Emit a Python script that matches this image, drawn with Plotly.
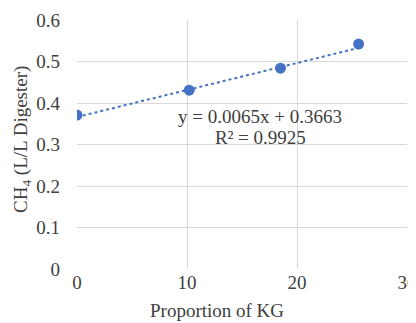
import plotly.graph_objects as go

# Data
x_vals = [0, 10.2, 18.5, 25.6]
y_vals = [0.371, 0.431, 0.484, 0.542]
slope = 0.0065
intercept = 0.3663
eq_text = "y = 0.0065x + 0.3663"
r2_text = "R² = 0.9925"
x_ticks = [0, 10, 20, 30]
y_ticks = [0, 0.1, 0.2, 0.3, 0.4, 0.5, 0.6]

blue = "#4472C4"
font_family = "Liberation Serif"
txt_color = "#404040"

trend_x = [min(x_vals), max(x_vals)]
trend_y = [slope * v + intercept for v in trend_x]

# page has an 8px body margin, so the figure is drawn offset by 8px
OFF = 8
W, H = 416, 323
PL, PR, PT, PB = 77, 407, 20, 269  # plot area in window pixels
L, T = PL - OFF, PT - OFF
R, B = W + OFF - PR, H + OFF - PB
pw, ph = PR - PL, PB - PT


def px_x(ax):
    return (ax - PL) / pw


def px_y(ay):
    return (PB - ay) / ph


fig = go.Figure()
fig.add_trace(go.Scatter(x=trend_x, y=trend_y, mode="lines",
                         line=dict(color=blue, width=2, dash="dot"),
                         hoverinfo="skip", showlegend=False))
fig.add_trace(go.Scatter(x=x_vals, y=y_vals, mode="markers",
                         marker=dict(color=blue, size=11),
                         showlegend=False))

tf = dict(family=font_family, size=19, color=txt_color)

fig.update_layout(
    width=W, height=H,
    margin=dict(l=L, r=R, t=T, b=B, autoexpand=False),
    paper_bgcolor="white", plot_bgcolor="white",
    font=tf,
    xaxis=dict(range=[0, 30], tickvals=x_ticks, showgrid=True,
               gridcolor="#d9d9d9", gridwidth=1, zeroline=False,
               showline=False, ticks="", automargin=False,
               ticklabeloverflow="allow", tickfont=tf),
    yaxis=dict(range=[0, 0.6], tickvals=y_ticks,
               ticktext=[("%g" % v) for v in y_ticks],
               showgrid=True, gridcolor="#d9d9d9", gridwidth=1,
               zeroline=False, showline=False, ticks="",
               ticklabelstandoff=16, ticklabeloverflow="allow", automargin=False,
               tickfont=tf),
    annotations=[
        dict(x=px_x(260), y=px_y(116), xref="paper", yref="paper", text=eq_text,
             showarrow=False, xanchor="center", yanchor="middle", font=tf),
        dict(x=px_x(260), y=px_y(137), xref="paper", yref="paper", text=r2_text,
             showarrow=False, xanchor="center", yanchor="middle", font=tf),
        dict(x=px_x(217), y=px_y(311), xref="paper", yref="paper",
             text="Proportion of KG", showarrow=False,
             xanchor="center", yanchor="middle", font=tf),
        dict(x=px_x(22), y=px_y(140), xref="paper", yref="paper",
             text="CH<sub>4</sub> (L/L Digester)", showarrow=False, textangle=-90,
             xanchor="center", yanchor="middle", font=tf),
    ],
)

fig.write_html("out.html")
